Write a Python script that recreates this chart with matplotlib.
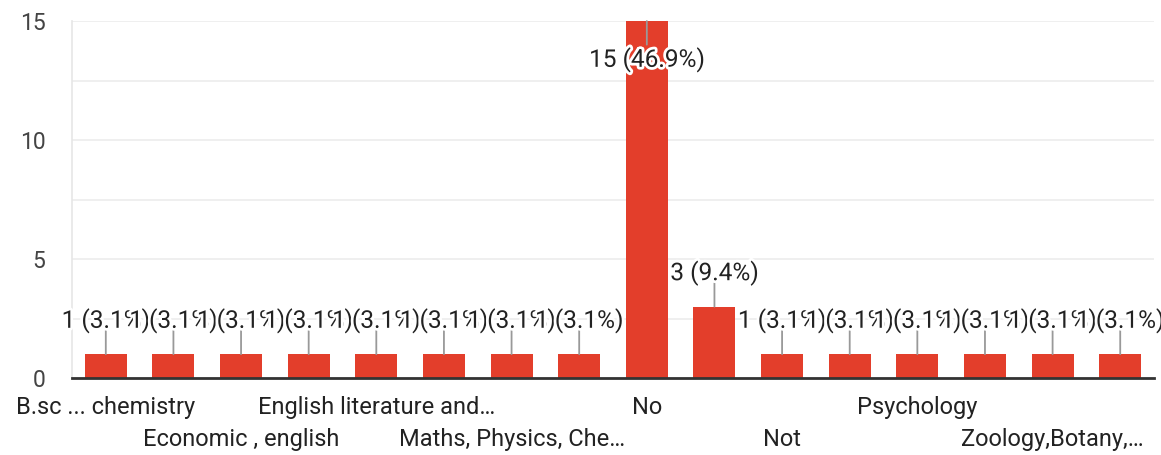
import matplotlib.pyplot as plt
import matplotlib.patheffects as pe
import numpy as np

plt.rcParams['font.family'] = ['Roboto', 'DejaVu Sans']

# answers, sorted as in the form summary; names the chart hides are left blank
categories = ['B.sc ... chemistry', '', 'Economic , english', '',
              'English literature and\u2026', '', 'Maths, Physics, Che\u2026', '',
              'No', '', 'Not', '', 'Psychology', '', 'Zoology,Botany,\u2026', '']
counts = [1, 1, 1, 1, 1, 1, 1, 1, 15, 3, 1, 1, 1, 1, 1, 1]

total = sum(counts)
x = np.arange(len(counts))

fig = plt.figure(figsize=(11.61, 4.55), dpi=100)
ax = fig.add_axes([0.062, 0.1692, 0.932, 0.7846])

ax.bar(x, counts, width=0.62, color='#e33e2b', zorder=2)

ax.set_xlim(-0.5, len(counts) - 0.5)
ax.set_ylim(0, 15)
ax.set_yticks([0, 5, 10, 15])
ax.set_yticks([2.5, 7.5, 12.5], minor=True)
ax.grid(axis='y', which='both', color='#ececec', lw=1.2, zorder=0)
ax.tick_params(axis='y', which='both', length=0, pad=19, labelsize=16.5, labelcolor='#444444')
ax.set_xticks([])

for s in ['top', 'right']:
    ax.spines[s].set_visible(False)
ax.spines['left'].set_color('#e6e6e6')
ax.spines['left'].set_linewidth(1.2)
ax.spines['bottom'].set_color('#333333')
ax.spines['bottom'].set_linewidth(2)
ax.spines['bottom'].set_zorder(3)

# value labels with leader lines
halo = [pe.withStroke(linewidth=4, foreground='white')]
for i, v in enumerate(counts):
    sign = -1 if v >= 15 else 1
    ax.annotate('', xy=(i, v), xytext=(0, sign * 17), textcoords='offset points',
                arrowprops=dict(arrowstyle='-', color='#999999', lw=1.3,
                                shrinkA=0, shrinkB=0), zorder=3)
for i, v in enumerate(counts):
    off = -28 if v >= 15 else 24
    ax.annotate(f'{v} ({v / total * 100:.1f}%)', xy=(i, v),
                xytext=(0, off), textcoords='offset points',
                ha='center', va='center', fontsize=17.6, color='#222222',
                path_effects=halo, zorder=4, annotation_clip=False)

# category labels on two staggered rows
row = 0
for i, name in enumerate(categories):
    if not name:
        continue
    off = -21.5 if row == 0 else -44
    ax.annotate(name, xy=(i, 0), xycoords=('data', 'axes fraction'),
                xytext=(0, off), textcoords='offset points',
                ha='center', va='center', fontsize=17, color='#222222')
    row = 1 - row

fig.savefig('out.png', dpi=100)
